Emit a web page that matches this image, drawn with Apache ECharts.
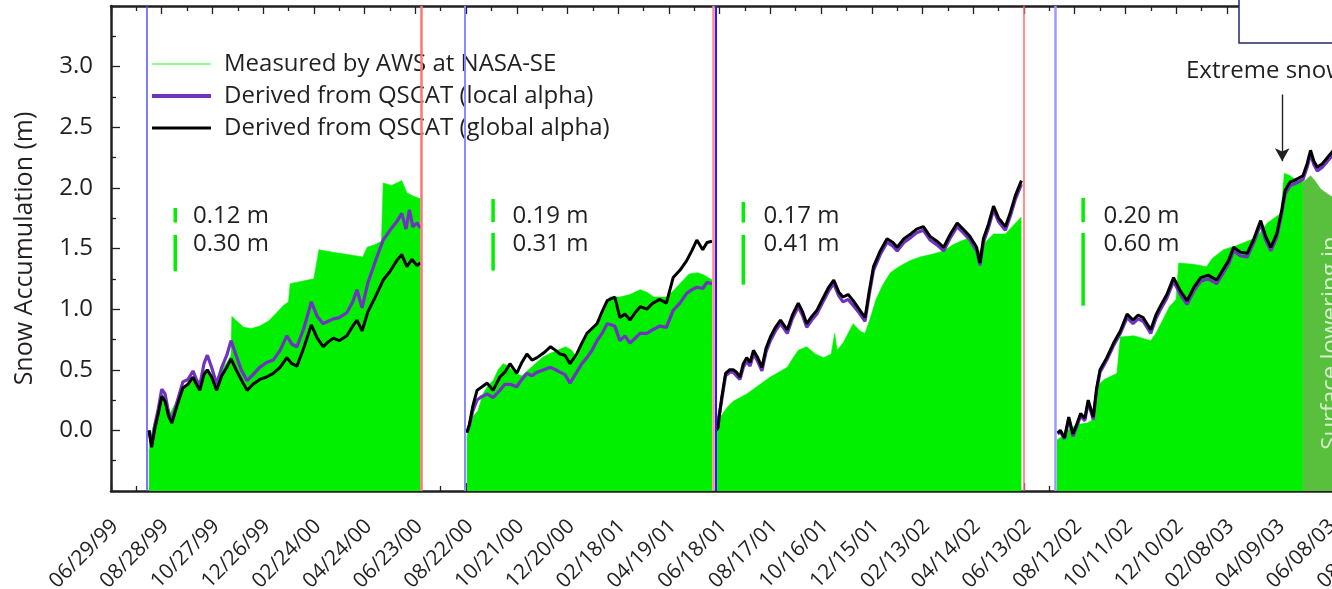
<!DOCTYPE html>
<html>
<head>
<meta charset="utf-8">
<title>Snow Accumulation</title>
<script src="https://cdn.jsdelivr.net/npm/echarts@6/dist/echarts.min.js"></script>
<style>
  html, body { margin: 0; padding: 0; background: #fff; }
  #chart { width: 1332px; height: 589px; }
</style>
</head>
<body>
<div id="chart"></div>
<script>
// ---- Axis setup: x values are days since 06/29/1999 ----
const BASE_DATE = Date.UTC(1999, 5, 29);
const X_MIN = 0, X_MAX = 1500, X_STEP = 60;
const Y_MIN = -0.5, Y_MAX = 3.5, Y_STEP = 0.5;

// Series names
const MEASURED = 'Measured by AWS at NASA-SE';
const LOCAL = 'Derived from QSCAT (local alpha)';
const GLOBAL = 'Derived from QSCAT (global alpha)';

// Season boundaries (days): start of accumulation (blue) and end (red)
const seasonStart = [42, 419, 715.5, 1117];
const seasonEnd = [366.5, 712, 1079.5];

// ---- Season 1 (1999-2000) ----
const measured1 = [[45,-0.18],[47,-0.05],[51,0.06],[56,0.16],[60,0.30],[65,0.27],[70,0.14],[76,0.22],[83,0.33],[90,0.38],[97,0.43],[104,0.37],[111,0.50],[118,0.47],[124,0.42],[131,0.50],[137,0.56],[142,0.62],[143,0.94],[149,0.90],[157,0.85],[166,0.84],[176,0.86],[186,0.90],[196,0.97],[204,1.03],[210,1.06],[212,1.21],[226,1.23],[240,1.25],[246,1.49],[262,1.47],[280,1.45],[298,1.43],[303,1.51],[312,1.53],[320,1.56],[322,2.04],[332,2.02],[344,2.06],[350,1.96],[358,1.93],[366,1.91]];
const local1 = [[45,0.00],[48,-0.12],[52,0.05],[56,0.18],[60,0.34],[64,0.30],[68,0.15],[72,0.08],[78,0.23],[85,0.40],[91,0.42],[97,0.49],[101,0.42],[105,0.37],[110,0.55],[114,0.62],[119,0.52],[125,0.38],[131,0.52],[137,0.62],[142,0.74],[148,0.62],[154,0.50],[161,0.41],[168,0.46],[176,0.52],[184,0.56],[192,0.58],[200,0.66],[208,0.78],[214,0.71],[220,0.69],[228,0.84],[237,1.06],[244,0.94],[251,0.88],[257,0.90],[263,0.92],[270,0.93],[279,0.97],[286,1.06],[291,1.16],[297,1.01],[304,1.22],[314,1.42],[322,1.57],[330,1.65],[338,1.72],[344,1.79],[349,1.66],[353,1.82],[357,1.68],[362,1.71],[366,1.67]];
const global1 = [[45,0.00],[48,-0.14],[52,0.02],[56,0.14],[60,0.28],[64,0.24],[68,0.12],[72,0.06],[78,0.20],[85,0.35],[91,0.38],[97,0.44],[101,0.38],[105,0.33],[110,0.46],[114,0.50],[119,0.44],[125,0.33],[131,0.45],[137,0.52],[142,0.59],[148,0.50],[154,0.42],[161,0.33],[168,0.38],[176,0.42],[184,0.44],[192,0.47],[200,0.52],[208,0.60],[214,0.55],[220,0.53],[228,0.68],[237,0.87],[244,0.76],[251,0.69],[257,0.73],[263,0.76],[270,0.74],[279,0.78],[286,0.86],[291,0.91],[297,0.82],[304,0.98],[314,1.12],[322,1.24],[330,1.31],[338,1.40],[344,1.45],[350,1.35],[356,1.41],[362,1.36],[366,1.38]];

// ---- Season 2 (2000-2001) ----
const measured2 = [[421,-0.06],[424,0.05],[429,0.12],[434,0.16],[440,0.30],[446,0.37],[452,0.41],[458,0.50],[464,0.55],[470,0.53],[478,0.47],[486,0.45],[494,0.50],[502,0.55],[510,0.60],[518,0.63],[528,0.66],[538,0.69],[545,0.66],[551,0.60],[557,0.70],[563,0.78],[571,0.84],[578,0.90],[584,0.99],[590,1.10],[602,1.10],[614,1.12],[626,1.16],[634,1.14],[642,1.10],[657,1.10],[665,1.15],[673,1.21],[684,1.29],[694,1.30],[702,1.28],[711,1.24]];
const local2 = [[421,-0.02],[424,0.04],[428,0.16],[433,0.25],[439,0.28],[445,0.30],[452,0.27],[460,0.33],[466,0.38],[472,0.38],[480,0.36],[486,0.42],[492,0.47],[498,0.45],[504,0.48],[512,0.50],[520,0.52],[526,0.50],[531,0.48],[537,0.46],[543,0.39],[551,0.48],[557,0.55],[563,0.60],[569,0.66],[575,0.74],[581,0.80],[587,0.88],[596,0.86],[602,0.74],[608,0.78],[614,0.72],[620,0.76],[626,0.80],[634,0.80],[641,0.83],[649,0.86],[657,0.85],[665,0.99],[673,1.05],[681,1.13],[687,1.16],[693,1.18],[700,1.17],[705,1.22],[711,1.21]];
const global2 = [[421,-0.02],[424,0.05],[428,0.20],[433,0.33],[439,0.36],[445,0.39],[452,0.33],[460,0.44],[466,0.48],[472,0.55],[480,0.47],[486,0.56],[492,0.63],[498,0.58],[504,0.60],[512,0.64],[520,0.69],[526,0.66],[531,0.63],[537,0.62],[543,0.55],[551,0.63],[557,0.72],[563,0.80],[569,0.84],[575,0.88],[581,0.98],[587,1.07],[596,1.10],[602,0.93],[608,0.96],[614,0.91],[620,0.97],[626,1.02],[634,1.00],[641,1.05],[649,1.08],[657,1.05],[665,1.26],[673,1.32],[681,1.40],[687,1.48],[693,1.57],[700,1.49],[705,1.55],[711,1.56]];

// ---- Season 3 (2001-2002) ----
const measured3 = [[717,0.02],[722,0.12],[729,0.19],[736,0.24],[744,0.27],[752,0.30],[760,0.34],[770,0.39],[780,0.44],[790,0.48],[800,0.52],[807,0.60],[813,0.66],[823,0.69],[833,0.63],[843,0.60],[852,0.63],[856,0.80],[859,0.66],[866,0.72],[878,0.88],[886,0.82],[892,0.80],[898,0.92],[905,1.08],[913,1.20],[922,1.30],[932,1.35],[945,1.40],[957,1.43],[970,1.45],[985,1.48],[996,1.53],[1005,1.56],[1013,1.58],[1020,1.52],[1026,1.46],[1034,1.55],[1044,1.62],[1058,1.62],[1066,1.68],[1077,1.76]];
const local3 = [[716,0.00],[718,0.01],[722,0.23],[727,0.45],[732,0.48],[736,0.48],[740,0.45],[744,0.42],[748,0.52],[752,0.57],[756,0.53],[760,0.63],[765,0.57],[770,0.49],[775,0.65],[780,0.74],[786,0.82],[792,0.88],[800,0.80],[806,0.92],[813,1.02],[818,0.95],[823,0.85],[829,0.91],[835,0.96],[843,1.07],[849,1.15],[855,1.21],[861,1.11],[866,1.06],[872,1.08],[878,1.03],[885,0.97],[892,0.90],[897,1.12],[902,1.32],[910,1.45],[918,1.55],[925,1.52],[930,1.48],[938,1.55],[946,1.59],[953,1.63],[961,1.65],[969,1.57],[977,1.53],[985,1.48],[993,1.59],[1001,1.68],[1008,1.63],[1016,1.57],[1024,1.48],[1028,1.36],[1032,1.55],[1038,1.67],[1044,1.82],[1050,1.72],[1058,1.65],[1064,1.77],[1070,1.91],[1077,2.03]];
const global3 = [[716,0.00],[718,0.02],[722,0.25],[727,0.47],[732,0.50],[736,0.50],[740,0.48],[744,0.44],[748,0.55],[752,0.60],[756,0.56],[760,0.66],[765,0.60],[770,0.52],[775,0.68],[780,0.77],[786,0.85],[792,0.91],[800,0.83],[806,0.95],[813,1.05],[818,0.98],[823,0.88],[829,0.94],[835,0.99],[843,1.10],[849,1.18],[855,1.24],[861,1.14],[866,1.10],[872,1.12],[878,1.07],[885,1.00],[892,0.93],[897,1.15],[902,1.35],[910,1.48],[918,1.58],[925,1.55],[930,1.51],[938,1.58],[946,1.62],[953,1.66],[961,1.68],[969,1.60],[977,1.56],[985,1.51],[993,1.62],[1001,1.71],[1008,1.66],[1016,1.60],[1024,1.51],[1028,1.38],[1032,1.58],[1038,1.70],[1044,1.85],[1050,1.75],[1058,1.68],[1064,1.80],[1070,1.94],[1077,2.06]];

// ---- Season 4 (2002-2003) ----
const measured4 = [[1119,-0.08],[1125,-0.05],[1135,0.02],[1145,0.05],[1155,0.06],[1164,0.10],[1166,0.36],[1175,0.42],[1190,0.47],[1194,0.77],[1210,0.78],[1230,0.74],[1236,0.80],[1245,0.92],[1252,1.02],[1260,1.08],[1263,1.38],[1280,1.37],[1296,1.35],[1303,1.42],[1316,1.49],[1330,1.52],[1348,1.57],[1356,1.60],[1368,1.71],[1384,1.79],[1388,2.12],[1395,2.10],[1402,2.06],[1410,2.05]];
const lowering4 = [[1410,2.05],[1414,2.07],[1419,2.10],[1424,2.06],[1431,1.99],[1439,1.95],[1446,1.92],[1460,1.87],[1500,1.80]];
const local4 = [[1120,-0.03],[1123,-0.01],[1128,-0.07],[1133,0.09],[1138,-0.05],[1143,0.04],[1147,0.12],[1152,0.08],[1156,0.23],[1162,0.09],[1166,0.33],[1170,0.48],[1178,0.58],[1186,0.70],[1194,0.80],[1202,0.93],[1209,0.88],[1215,0.92],[1221,0.90],[1230,0.80],[1236,0.92],[1241,0.99],[1249,1.09],[1257,1.23],[1265,1.12],[1273,1.04],[1281,1.15],[1289,1.23],[1298,1.25],[1308,1.21],[1315,1.29],[1322,1.37],[1328,1.48],[1336,1.44],[1344,1.43],[1352,1.55],[1360,1.70],[1366,1.57],[1372,1.48],[1379,1.59],[1385,1.79],[1389,1.95],[1395,2.02],[1399,2.03],[1405,2.05],[1410,2.07],[1415,2.17],[1419,2.28],[1423,2.19],[1427,2.14],[1433,2.17],[1439,2.22],[1445,2.27],[1452,2.29]];
const global4 = [[1120,-0.02],[1123,0.00],[1128,-0.06],[1133,0.11],[1138,-0.03],[1143,0.06],[1147,0.14],[1152,0.10],[1156,0.25],[1162,0.11],[1166,0.35],[1170,0.50],[1178,0.60],[1186,0.72],[1194,0.82],[1202,0.96],[1209,0.91],[1215,0.95],[1221,0.93],[1230,0.83],[1236,0.95],[1241,1.02],[1249,1.12],[1257,1.26],[1265,1.15],[1273,1.07],[1281,1.18],[1289,1.26],[1298,1.28],[1308,1.24],[1315,1.32],[1322,1.40],[1328,1.51],[1336,1.47],[1344,1.46],[1352,1.58],[1360,1.73],[1366,1.60],[1372,1.51],[1379,1.62],[1385,1.82],[1389,1.98],[1395,2.05],[1399,2.06],[1405,2.08],[1410,2.10],[1415,2.20],[1419,2.31],[1423,2.22],[1427,2.17],[1433,2.20],[1439,2.25],[1445,2.30],[1452,2.32]];

// ---- Per-season uncertainty bars (m) and where they sit ----
const spreadDay = [76, 452, 748, 1150];
const spreadShort = [0.12, 0.19, 0.17, 0.20];
const spreadLong = [0.30, 0.31, 0.41, 0.60];
const spreadShortTop = [1.834, 1.908, 1.884, 1.917];
const spreadLongTop = [1.612, 1.628, 1.612, 1.628];
const spreadLabelDay = [97, 475, 772, 1174];
const spreadLabelY = [1.77, 1.535];

// ---- Annotations ----
const snowfallEvent = { day: 1385.5, from: 2.77, to: 2.22, text: 'Extreme snowfall' };
const loweringText = { day: 1458, y: -0.16, text: 'Surface lowering in' };

// ---- Styling ----
const FONT = '"Open Sans", "Noto Sans", sans-serif';
const INK = '#231f20';
const GREEN = '#00f000';
const GREEN_DARK = '#58c03c';
const PURPLE = '#7032c0';

function pad2(n) { return (n < 10 ? '0' : '') + n; }
function dayLabel(d) {
  const t = new Date(BASE_DATE + d * 86400000);
  return pad2(t.getUTCMonth() + 1) + '/' + pad2(t.getUTCDate()) + '/' + pad2(t.getUTCFullYear() % 100);
}

const seasons = [
  { measured: measured1, local: local1, global: global1 },
  { measured: measured2, local: local2, global: global2 },
  { measured: measured3, local: local3, global: global3 },
  { measured: measured4, local: local4, global: global4 }
];

const series = [];
seasons.forEach(s => {
  series.push({
    name: MEASURED, type: 'line', data: s.measured, symbol: 'none',
    lineStyle: { width: 0.6, color: GREEN }, itemStyle: { color: GREEN },
    areaStyle: { color: GREEN, opacity: 1, origin: 'start' },
    z: 1, silent: true
  });
});
series.push({
  name: 'lowering', type: 'line', data: lowering4, symbol: 'none',
  lineStyle: { width: 0.6, color: GREEN_DARK }, itemStyle: { color: GREEN_DARK },
  areaStyle: { color: GREEN_DARK, opacity: 1, origin: 'start' },
  z: 1, silent: true
});
seasons.forEach(s => {
  series.push({
    name: LOCAL, type: 'line', data: s.local, symbol: 'none',
    lineStyle: { width: 3.2, color: PURPLE }, itemStyle: { color: PURPLE },
    z: 2, silent: true
  });
});
seasons.forEach(s => {
  series.push({
    name: GLOBAL, type: 'line', data: s.global, symbol: 'none',
    lineStyle: { width: 3, color: '#000' }, itemStyle: { color: '#000' },
    z: 3, silent: true
  });
});

// Season boundary lines and the snowfall arrow
const startStyles = [
  { color: '#4f4fff', width: 1.5 }, { color: '#8a8aff', width: 2 },
  { color: '#1d1dff', width: 2 }, { color: '#9a9aff', width: 2.5 }
];
const endStyles = [
  { color: '#ff7474', width: 2.5 }, { color: '#ff8a8a', width: 2.5 }, { color: '#ff6a6a', width: 1.5 }
];
series.push({
  name: 'boundaries', type: 'line', data: [], z: 4, silent: true,
  markLine: {
    silent: true, symbol: ['none', 'none'], label: { show: false },
    data: seasonStart.map((d, i) => ({ xAxis: d, lineStyle: { type: 'solid', ...startStyles[i] } }))
      .concat(seasonEnd.map((d, i) => ({ xAxis: d, lineStyle: { type: 'solid', ...endStyles[i] } })))
  }
});
series.push({
  name: 'event', type: 'line', data: [], z: 5, silent: true,
  markLine: {
    silent: true, symbol: ['none', 'arrow'], symbolSize: [11, 13],
    lineStyle: { type: 'solid', color: INK, width: 1.4 },
    label: {
      show: true, position: 'start', formatter: snowfallEvent.text,
      fontFamily: FONT, fontSize: 24, color: INK, distance: 11
    },
    data: [[{ coord: [snowfallEvent.day, snowfallEvent.from] }, { coord: [snowfallEvent.day, snowfallEvent.to] }]]
  }
});

// Uncertainty bars with their labels
series.push({
  name: 'spread', type: 'custom', z: 6, silent: true, clip: false,
  data: spreadDay.map((d, i) => [d, spreadShortTop[i], spreadLongTop[i], spreadShort[i], spreadLong[i], spreadLabelDay[i]]),
  renderItem: function (params, api) {
    const d = api.value(0), t1 = api.value(1), t2 = api.value(2);
    const v1 = api.value(3), v2 = api.value(4), ld = api.value(5);
    const a1 = api.coord([d, t1]), b1 = api.coord([d, t1 - v1]);
    const a2 = api.coord([d, t2]), b2 = api.coord([d, t2 - v2]);
    const l1 = api.coord([ld, spreadLabelY[0]]), l2 = api.coord([ld, spreadLabelY[1]]);
    const txt = (p, s) => ({
      type: 'text', x: p[0], y: p[1],
      style: { text: s, fill: INK, fontSize: 24, fontFamily: FONT, align: 'left', verticalAlign: 'middle' }
    });
    return {
      type: 'group',
      children: [
        { type: 'line', shape: { x1: a1[0], y1: a1[1], x2: b1[0], y2: b1[1] }, style: { stroke: GREEN, lineWidth: 3.5 } },
        { type: 'line', shape: { x1: a2[0], y1: a2[1], x2: b2[0], y2: b2[1] }, style: { stroke: GREEN, lineWidth: 3.5 } },
        txt(l1, v1.toFixed(2) + ' m'),
        txt(l2, v2.toFixed(2) + ' m')
      ]
    };
  }
});

const axisLineStyle = { color: INK, width: 2.5 };
const tickStyle = { color: INK, width: 1.3 };

const option = {
  animation: false,
  backgroundColor: '#fff',
  grid: { left: 111, top: 6, bottom: 98, right: -47, containLabel: false, outerBoundsMode: 'none' },
  legend: {
    orient: 'vertical', left: 152, top: 52, padding: 0,
    itemWidth: 59, itemHeight: 14, itemGap: 8, symbolKeepAspect: true,
    textStyle: { fontFamily: FONT, fontSize: 24, lineHeight: 24, color: INK, padding: [0, 0, 0, 8] },
    selectedMode: false,
    data: [
      { name: MEASURED, icon: 'path://M0 0H60V2H0Z', itemStyle: { color: '#8cff8c', borderWidth: 0 } },
      { name: LOCAL, icon: 'path://M0 0H60V4H0Z', itemStyle: { color: PURPLE, borderWidth: 0 } },
      { name: GLOBAL, icon: 'path://M0 0H60V3H0Z', itemStyle: { color: '#000', borderWidth: 0 } }
    ]
  },
  xAxis: [
    {
      type: 'value', min: X_MIN, max: X_MAX, interval: X_STEP, position: 'bottom',
      axisLine: { show: true, onZero: false, lineStyle: axisLineStyle },
      axisTick: { show: true, inside: true, length: 8, lineStyle: tickStyle },
      minorTick: { show: true, splitNumber: 2, length: 5, lineStyle: tickStyle },
      splitLine: { show: false },
      axisLabel: {
        rotate: 45, margin: 21, align: 'right', verticalAlign: 'top', padding: [0, 5, 0, 0],
        formatter: dayLabel, showMaxLabel: true, showMinLabel: true,
        fontFamily: FONT, fontSize: 21, color: INK
      }
    },
    {
      type: 'value', min: X_MIN, max: X_MAX, interval: X_STEP, position: 'top',
      axisLine: { show: true, onZero: false, lineStyle: axisLineStyle },
      axisTick: { show: true, inside: true, length: 8, lineStyle: tickStyle },
      minorTick: { show: true, splitNumber: 2, length: 5, lineStyle: tickStyle },
      splitLine: { show: false },
      axisLabel: { show: false }
    }
  ],
  yAxis: {
    type: 'value', min: Y_MIN, max: Y_MAX, interval: Y_STEP,
    name: 'Snow Accumulation (m)', nameLocation: 'middle', nameGap: 74,
    nameTextStyle: { fontFamily: FONT, fontSize: 25, color: INK },
    axisLine: { show: true, onZero: false, lineStyle: axisLineStyle },
    axisTick: { show: true, inside: true, length: 9, lineStyle: tickStyle },
    minorTick: { show: true, splitNumber: 2, length: 5, lineStyle: tickStyle },
    splitLine: { show: false },
    axisLabel: {
      margin: 18, fontFamily: FONT, fontSize: 24, color: INK,
      formatter: v => (v < -0.01 || v > 3.01) ? '' : v.toFixed(1)
    }
  },
  series: series
};

const chart = echarts.init(document.getElementById('chart'), null, { renderer: 'canvas' });
chart.setOption(option);

// Rotated note inside the surface-lowering band, plus the framed box at the top edge
const lp = chart.convertToPixel({ gridIndex: 0 }, [loweringText.day, loweringText.y]);
chart.setOption({
  graphic: [
    {
      type: 'text', x: lp[0], y: lp[1], rotation: Math.PI / 2, z: 10, silent: true,
      style: { text: loweringText.text, fill: 'rgba(235,245,230,0.85)', fontFamily: FONT, fontSize: 24, align: 'left', verticalAlign: 'bottom' }
    },
    {
      type: 'rect', shape: { x: 1239, y: -4, width: 140, height: 47 }, z: 10, silent: true,
      style: { fill: '#fff', stroke: '#1f2a66', lineWidth: 1.5 }
    }
  ]
});
</script>
</body>
</html>
